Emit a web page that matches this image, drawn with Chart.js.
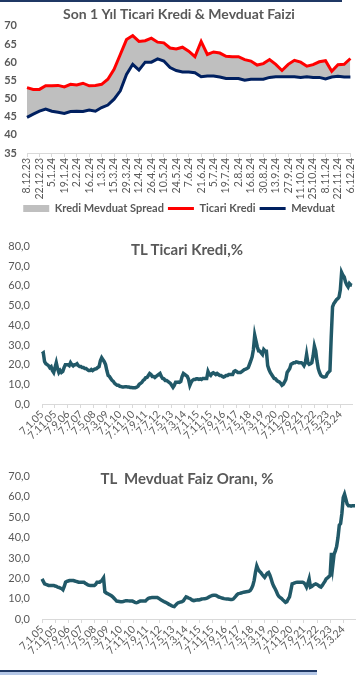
<!DOCTYPE html>
<html>
<head>
<meta charset="utf-8">
<script src="https://cdn.jsdelivr.net/npm/chart.js@4"></script>
<style>
  body { margin: 0; background: #fff; width: 364px; height: 675px; position: relative; overflow: hidden; font-family: Lato, sans-serif; }
  canvas { position: absolute; left: 0; }
  .title { position: absolute; left: 0; width: 374px; text-align: center; font-weight: bold; color: #595959; white-space: pre; font-size: 15px; line-height: 1; }
  .bar { position: absolute; left: 0; }
</style>
</head>
<body>
<div class="bar" style="top:0;width:342px;height:2px;background:#1f3864"></div>
<canvas id="c1" width="364" height="224" style="top:0"></canvas>
<canvas id="c2" width="364" height="222" style="top:228px"></canvas>
<div class="title" style="top:242px">TL Ticari Kredi,%</div>
<canvas id="c3" width="364" height="210" style="top:458px"></canvas>
<div class="title" style="top:471px">TL  Mevduat Faiz Oranı, %</div>
<div class="bar" style="top:670px;width:317px;height:2px;background:#1f3864"></div>
<div class="bar" style="top:672px;width:317px;height:3px;background:#b4c7e7"></div>

<script>
const colorText = '#595959';
const colorAxis = '#d9d9d9';
const colorRed = '#ff0000';
const colorNavy = '#002060';
const colorSpread = '#bfbfbf';
const colorTeal = '#215968';
const fontFamily = 'Lato, sans-serif';

// ---- son 1 yil (haftalik) ----
const weekLabels = ['8.12.23','15.12.23','22.12.23','29.12.23','5.1.24','12.1.24','19.1.24','26.1.24',
  '2.2.24','9.2.24','16.2.24','23.2.24','1.3.24','8.3.24','15.3.24','22.3.24','29.3.24','5.4.24',
  '12.4.24','19.4.24','26.4.24','3.5.24','10.5.24','17.5.24','24.5.24','31.5.24','7.6.24','14.6.24',
  '21.6.24','28.6.24','5.7.24','12.7.24','19.7.24','26.7.24','2.8.24','9.8.24','16.8.24','23.8.24',
  '30.8.24','6.9.24','13.9.24','20.9.24','27.9.24','4.10.24','11.10.24','18.10.24','25.10.24',
  '1.11.24','8.11.24','15.11.24','22.11.24','29.11.24','6.12.24'];
const ticariKredi = [53.0, 52.5, 52.5, 53.5, 53.5, 53.6, 53.2, 53.9, 53.7, 54.2, 53.5, 53.6, 53.9,
  55.3, 58.0, 62.1, 66.2, 67.3, 65.7, 65.9, 66.6, 65.5, 65.3, 63.9, 63.6, 64.1, 63.0, 61.5, 65.7,
  62.1, 62.8, 62.5, 61.6, 61.5, 61.5, 60.7, 60.3, 59.2, 59.6, 60.7, 59.4, 57.7, 59.4, 60.5, 60.0,
  58.9, 59.3, 60.1, 60.4, 57.5, 59.3, 59.4, 61.0];
const mevduat = [44.8, 45.7, 46.5, 47.1, 46.5, 46.2, 45.9, 46.4, 46.5, 46.4, 46.8, 46.5, 47.5,
  48.2, 49.8, 52.1, 56.6, 59.4, 57.8, 60.0, 60.0, 60.9, 60.3, 58.5, 57.7, 57.3, 57.3, 57.1, 56.0,
  56.2, 56.2, 55.9, 55.5, 55.5, 55.5, 55.0, 55.3, 55.3, 55.3, 55.8, 56.0, 56.0, 56.0, 56.0, 55.8,
  56.0, 55.8, 55.8, 55.4, 55.9, 56.1, 55.9, 55.9];

// ---- 2005-2024 (aylik) ----
const monthTickLabels = ['7.1.05','7.11.05','7.9.06','7.7.07','7.5.08','7.3.09','7.1.10','7.11.10',
  '7.9.11','7.7.12','7.5.13','7.3.14','7.1.15','7.11.15','7.9.16','7.7.17','7.5.18','7.3.19',
  '7.1.20','7.11.20','7.9.21','7.7.22','7.5.23','7.3.24'];
const tlTicariKredi = [
  25.5, 26, 21.5, 20.5, 20, 19.5, 18.5, 19, 17, 16, 18.5, 21,
  18, 16, 17, 16, 16.5, 18.5, 20, 20, 20, 19.5, 21, 20,
  19.4, 20, 20, 20.5, 19.5, 19, 19, 18.5, 18.5, 18, 18, 17.5,
  17, 17, 17.5, 17, 17.5, 17.8, 18, 18.6, 19, 22, 23.5, 22.5,
  21.5, 20, 17, 14.5, 14, 13, 12, 11.5, 10.5, 10, 9.5, 9.5,
  9, 8.8, 8.6, 8.6, 8.8, 8.8, 8.6, 8.6, 8.4, 8.4, 8.3, 8.3,
  8.3, 8.5, 9, 10, 10.5, 11, 12, 12.5, 13.4, 13.5, 14.5, 15.5,
  15, 14, 14, 13.5, 14, 14.5, 15, 15.5, 14, 13, 12.8, 12,
  12, 11.5, 11, 10.5, 9.5, 8.5, 9.5, 11, 11, 11.2, 11, 11.5,
  14, 15.5, 15, 14.5, 14, 12.5, 9.5, 11, 12, 12.5, 12.5, 12.8,
  12.8, 12.5, 12.8, 12.5, 13, 13, 13, 13, 16.5, 15, 14.5, 15.5,
  15.9, 15.5, 15, 15.5, 15, 14.5, 14.5, 14, 13.7, 14, 14.5, 14.5,
  15, 15, 15, 15, 16.5, 16.9, 16.5, 16, 16, 16, 16.5, 17,
  17.5, 17.7, 18, 18.5, 20.2, 22, 24, 27.7, 35, 32, 29, 27,
  26.9, 26, 25.2, 27.7, 27, 26.9, 19.5, 17.5, 16, 15, 14, 13,
  12.8, 12, 11.5, 11.2, 10.5, 9.5, 10, 11.2, 12.5, 16, 17, 18,
  20.2, 20.5, 21, 21, 21.4, 21.3, 21, 21, 21, 20.5, 19.5, 21,
  25.2, 21, 20.2, 20.5, 21, 24.3, 29.4, 27, 21.9, 18, 16, 14.5,
  14, 13.7, 13.7, 14, 15.5, 16.2, 16.9, 34.3, 49.4, 51, 52, 53,
  53.5, 54.4, 58, 66.9, 65.5, 64.5, 62, 60.5, 59.5, 61.2, 60.5, 60.3];
const tlMevduat = [
  19.7, 18.5, 17.3, 17, 16.8, 16.5, 16.5, 16.5, 16.5, 16.5, 16.2, 16,
  15.7, 15.5, 15.2, 15, 14.4, 16, 18.1, 18.5, 18.7, 18.9, 18.9, 18.9,
  18.9, 18.7, 18.5, 18.3, 18.1, 18.1, 18.1, 18.1, 18.1, 17.6, 17.2, 16.8,
  16.6, 16.5, 16.5, 16.5, 16.5, 17, 18.1, 18.1, 18.1, 18.6, 19.2, 20.2,
  13.3, 12.8, 12.5, 12.2, 11.8, 11.4, 10.9, 10.2, 9.5, 8.8, 8.7, 8.6,
  8.5, 8.5, 8.6, 8.8, 9, 9, 8.9, 8.8, 8.8, 8.8, 8.5, 8.2,
  8, 8.2, 8.5, 8.8, 8.8, 8.8, 8.8, 8.8, 9.5, 10.1, 10.3, 10.4,
  10.6, 10.6, 10.6, 10.6, 10.6, 10.2, 9.8, 9.3, 9, 8.6, 8.3, 8,
  7.6, 7.2, 6.9, 6.5, 6.2, 6.1, 6.8, 7.5, 8, 8.2, 8.4, 8.5,
  9, 10, 10.9, 10.6, 10.3, 10.1, 9.6, 9.2, 9, 9.2, 9.3, 9.5,
  9.4, 9.6, 9.8, 9.9, 10, 10.1, 10.3, 10.6, 11, 11.3, 11.6, 11.7,
  11.7, 11.6, 11.2, 10.8, 10.6, 10.4, 10.2, 10, 9.9, 9.8, 9.8, 9.7,
  9.6, 9.6, 9.8, 10.5, 11.2, 12, 12.5, 12.6, 12.8, 13, 13.2, 13.3,
  13.4, 13.5, 13.6, 14, 15, 16.5, 19, 23, 26.1, 24.5, 23.5, 22.9,
  22, 21.2, 20.5, 21.5, 22.5, 22.9, 21.5, 19.7, 17.5, 16, 14.9, 13.5,
  12, 11, 10.5, 10, 9.3, 8.8, 8.2, 8.5, 9.8, 10.9, 14, 17.3,
  17.5, 17.8, 18, 18.1, 18.1, 18.1, 18.1, 18.1, 17.8, 17, 15.7, 17.5,
  19.7, 15.7, 16, 16.5, 17, 17.3, 17, 16.5, 16, 15.7, 16.5, 17.5,
  18.5, 19.7, 20.2, 20.8, 21.3, 32.5, 26.1, 31.7, 33.5, 35.7, 40, 46.1,
  46.9, 52, 59.7, 61.4, 59, 56.5, 55.7, 55.7, 55.5, 55.7, 55.7, 55.7];

// aylik kategori etiketleri (7.ay.yil)
const monthLabels = tlTicariKredi.map((v, i) => '7.' + (i % 12 + 1) + '.' + String(5 + Math.floor(i / 12)).padStart(2, '0'));

// ================ SPREAD LINE CHART =====================================
const spreadChart = new Chart(document.getElementById('c1'), {
    type: 'line',
    data: {
        labels: weekLabels,
        datasets: [{
            label: 'Kredi Mevduat Spread',
            data: ticariKredi,
            borderWidth: 0,
            borderColor: 'transparent',
            backgroundColor: colorSpread,
            fill: 2,
            pointStyle: 'rect'
        }, {
            label: 'Ticari Kredi',
            data: ticariKredi,
            borderColor: colorRed,
            borderWidth: 3,
            fill: false,
            pointStyle: 'line'
        }, {
            label: 'Mevduat',
            data: mevduat,
            borderColor: colorNavy,
            borderWidth: 3,
            fill: false,
            pointStyle: 'line'
        }]
    },
    options: {
        responsive: false,
        animation: false,
        elements: { point: { radius: 0, hoverRadius: 0 }, line: { tension: 0 } },
        layout: { padding: { right: 6 } },
        plugins: {
            filler: { drawTime: 'beforeDatasetsDraw' },
            tooltip: { enabled: false },
            title: {
                display: true,
                text: 'Son 1 Yıl Ticari Kredi & Mevduat Faizi',
                color: colorText,
                font: { family: fontFamily, size: 14, weight: 'bold' },
                padding: { top: 6, bottom: 3 }
            },
            legend: {
                position: 'bottom',
                labels: {
                    usePointStyle: true,
                    pointStyleWidth: 26,
                    boxHeight: 7,
                    padding: 4,
                    color: colorText,
                    font: { family: fontFamily, size: 11, weight: 'bold' },
                    generateLabels: (chart) => chart.data.datasets.map((ds, i) => ({
                        text: ds.label,
                        datasetIndex: i,
                        pointStyle: ds.pointStyle,
                        fillStyle: i === 0 ? ds.backgroundColor : ds.borderColor,
                        strokeStyle: i === 0 ? ds.backgroundColor : ds.borderColor,
                        lineWidth: i === 0 ? 0 : 3,
                        fontColor: colorText
                    }))
                }
            }
        },
        scales: {
            x: {
                grid: { drawOnChartArea: false, tickLength: 4, tickColor: (ctx) => ctx.index % 2 ? 'transparent' : colorAxis },
                border: { color: colorAxis },
                ticks: {
                    autoSkip: false, minRotation: 90, maxRotation: 90, padding: 1,
                    color: colorText, font: { family: fontFamily, size: 10.5 },
                    callback: (v, i) => i % 2 ? '' : weekLabels[i]
                },
                afterFit: (s) => { s.height = 46; }
            },
            y: {
                min: 35, max: 70,
                grid: { display: false, drawTicks: false },
                border: { display: false },
                ticks: { stepSize: 5, padding: 10, color: colorText, font: { family: fontFamily, size: 11, weight: 'bold' } },
                afterFit: (s) => { s.width = 27; }
            }
        }
    }
});

// ================ UZUN DONEM LINE CHARTS =====================================
function longChart(id, values, yMax, rightPad, xHeight) {
    return new Chart(document.getElementById(id), {
        type: 'line',
        data: {
            labels: monthLabels,
            datasets: [{ data: values, borderColor: colorTeal, borderWidth: 3.5, fill: false }]
        },
        options: {
            responsive: false,
            animation: false,
            elements: { point: { radius: 0, hoverRadius: 0 }, line: { tension: 0 } },
            layout: { padding: { top: 15, right: rightPad } },
            plugins: { legend: { display: false }, tooltip: { enabled: false } },
            scales: {
                x: {
                    grid: { drawOnChartArea: false, tickLength: 4, tickColor: (ctx) => ctx.index % 10 ? 'transparent' : colorAxis },
                    border: { color: colorAxis },
                    ticks: {
                        autoSkip: false, minRotation: 45, maxRotation: 45, padding: 0,
                        color: colorText, font: { family: fontFamily, size: 10.5 },
                        callback: (v, i) => i % 10 ? '' : monthTickLabels[i / 10]
                    },
                    afterFit: (s) => { s.height = xHeight; }
                },
                y: {
                    min: 0, max: yMax,
                    grid: { display: false, drawTicks: false },
                    border: { display: false },
                    ticks: {
                        stepSize: 10, padding: 12, color: colorText,
                        font: { family: fontFamily, size: 11 },
                        callback: (v) => v.toFixed(1).replace('.', ',')
                    },
                    afterFit: (s) => { s.width = 42; }
                }
            }
        }
    });
}

const krediChart = longChart('c2', tlTicariKredi, 80, 12, 46);
const mevduatChart = longChart('c3', tlMevduat, 70, 9, 49);
</script>
</body>
</html>
